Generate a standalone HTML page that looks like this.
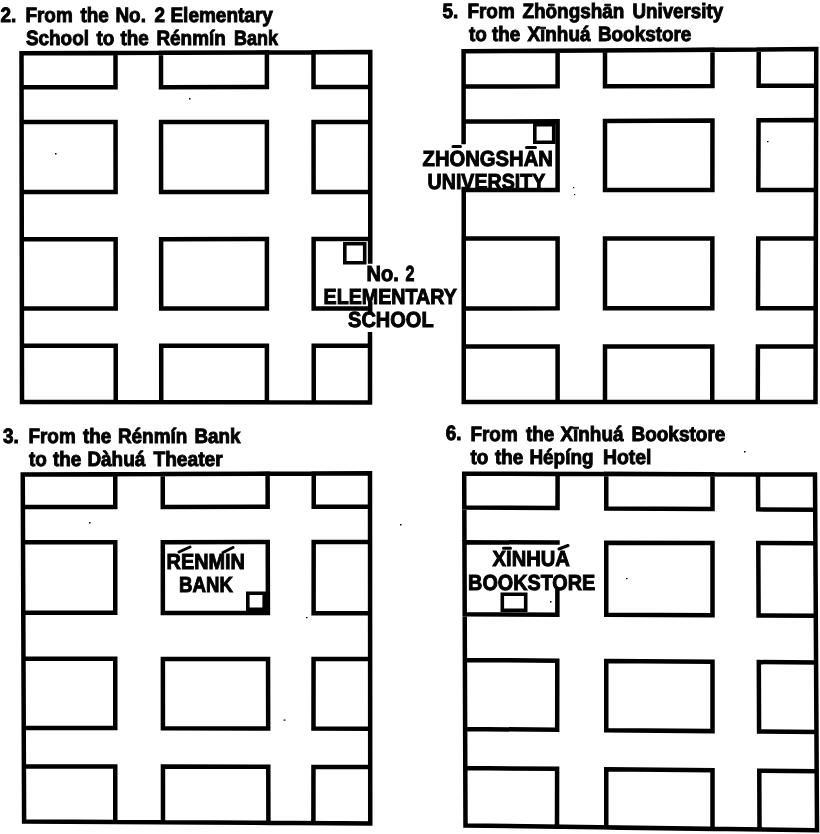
<!DOCTYPE html>
<html><head><meta charset="utf-8"><style>
html,body{margin:0;padding:0;background:#fff;}
svg{display:block;will-change:transform;}
text{text-rendering:geometricPrecision;font-family:"Liberation Sans",sans-serif;font-weight:bold;fill:#000;stroke:#000;stroke-width:0.9;}
</style></head><body>
<svg width="820" height="834" viewBox="0 0 820 834">
<rect width="820" height="834" fill="#fff"/>
<path d="M21.5 53.25L115.5 52.91L115.52 87.18L21.55 87.25Z M161.0 52.75L266.9 52.37L266.9 87.07L161.02 87.15Z M313.5 52.2L370.25 52.0L370.23 87.0L313.52 87.04Z M21.6 122.0L115.55 122.0L115.6 192.0L21.7 192.0Z M161.05 122.0L266.9 122.0L266.9 192.0L161.1 192.0Z M313.55 122.0L370.2 122.0L370.15 192.0L313.6 192.0Z M21.77 239.25L115.63 239.18L115.68 308.5L21.87 308.5Z M161.13 239.15L266.9 239.07L266.9 308.5L161.18 308.5Z M313.68 308.5L313.63 239.04L370.12 239.0L370.12 261.5 M313.68 308.5L369.57 308.5 M21.92 345.75L115.71 345.75L115.75 402.11L22.0 402.0Z M161.21 345.75L266.9 345.75L266.9 402.28L161.25 402.16Z M313.71 345.75L370.04 345.75L370.0 402.4L313.75 402.34Z M370.25 261.5L370.25 52.0L21.5 53.25L22.0 402.0L370.0 402.4L370.0 334.25 M370.2 304L370.2 310.5 M463.6 51.25L557.6 50.68L557.6 86.33L463.62 86.6Z M605.0 50.39L712.5 49.73L712.47 85.89L605.0 86.2Z M758.75 49.45L816.25 49.1L816.17 85.6L758.65 85.76Z M463.63 142L463.63 121.6L557.6 121.17L557.6 190.0L463.66 190.0 M605.0 120.96L712.45 120.47L712.4 190.0L605.0 190.0Z M758.55 120.26L816.1 120.0L815.95 190.0L758.35 190.0Z M463.68 238.6L557.6 238.55L557.6 308.36L463.71 308.4Z M605.0 238.52L712.37 238.46L712.32 308.29L605.0 308.34Z M758.22 238.43L815.85 238.4L815.7 308.25L758.02 308.27Z M463.73 346.4L557.6 346.4L557.6 402.1L463.75 402.1Z M605.0 346.4L712.29 346.4L712.25 402.1L605.0 402.1Z M757.91 346.4L815.62 346.4L815.5 402.1L757.75 402.1Z M463.6 142L463.6 51.25L816.25 49.1L815.5 402.1L463.75 402.1L463.75 189 M22.75 474.5L115.25 474.17L115.25 506.93L22.88 507.0Z M162.75 474.0L267.6 473.62L267.68 506.82L162.77 506.9Z M313.75 473.45L370.0 473.25L370.02 506.75L313.72 506.79Z M23.01 542.3L115.25 542.22L115.25 612.85L23.29 612.7Z M162.8 542.18L267.76 542.09L267.92 613.09L162.85 612.92Z M313.68 542.05L370.05 542.0L370.1 613.25L313.61 613.16Z M23.47 658.75L115.25 658.84L115.25 728.01L23.73 727.75Z M162.88 658.89L268.02 659.0L268.18 728.46L162.93 728.15Z M313.56 659.04L370.13 659.1L370.18 728.75L313.49 728.59Z M23.88 766.25L115.25 766.45L115.25 822.08L24.1 821.6Z M162.96 766.55L268.27 766.78L268.4 822.87L163.0 822.32Z M313.46 766.88L370.21 767.0L370.25 823.4L313.4 823.11Z M22.75 474.5L370.0 473.25L370.25 823.4L24.1 821.6Z M464.2 473.75L557.6 473.95L557.54 508.09L464.32 507.5Z M606.25 474.05L712.5 474.28L712.5 509.09L606.25 508.41Z M758.0 474.38L815.0 474.5L815.2 509.74L758.15 509.38Z M557.48 542.51L464.45 542.25L464.71 614.25L557.36 614.65L557.36 591 M606.25 542.65L712.5 542.96L712.5 615.31L606.25 614.85Z M758.29 543.09L815.39 543.25L815.8 615.75L758.6 615.5Z M464.88 660.0L557.28 660.66L557.17 729.79L465.14 729.0Z M606.25 661.01L712.5 661.76L712.5 731.12L606.25 730.21Z M758.8 662.09L816.07 662.5L816.46 732.0L759.09 731.51Z M465.28 768.0L557.1 768.85L557.0 826.75L465.49 825.51Z M606.25 769.31L712.5 770.29L712.5 828.85L606.25 827.41Z M759.26 770.72L816.68 771.26L817.01 830.26L759.51 829.49Z M464.2 473.75L815.0 474.5L817.01 830.26L465.49 825.51Z" fill="none" stroke="#000" stroke-width="4.5" stroke-linejoin="miter" stroke-linecap="square"/>
<path d="M344.8 243.8H364.7V262.7H344.8Z M534.8 124.8H553.7V142.2H534.8Z M247.8 593.3H264.2V609.2H247.8Z M502.3 594.3H525.7V610.2H502.3Z" fill="none" stroke="#000" stroke-width="3.6"/>
<text x="0.45" y="22" font-size="19.5" stroke-width="0.9" textLength="15.77" lengthAdjust="spacingAndGlyphs" transform="matrix(1 0 0 1.06 0 -1.320)">2.</text>
<text x="25.45" y="21.5" font-size="19.5" stroke-width="0.9" textLength="47.29" lengthAdjust="spacingAndGlyphs" transform="matrix(1 0 0 1.06 0 -1.290)">From</text>
<text x="80.45" y="21.5" font-size="19.5" stroke-width="0.9" textLength="28.37" lengthAdjust="spacingAndGlyphs" transform="matrix(1 0 0 1.06 0 -1.290)">the</text>
<text x="115.45" y="21.5" font-size="19.5" stroke-width="0.9" textLength="30.47" lengthAdjust="spacingAndGlyphs" transform="matrix(1 0 0 1.06 0 -1.290)">No.</text>
<text x="154.45" y="21.5" font-size="19.5" stroke-width="0.9" textLength="10.52" lengthAdjust="spacingAndGlyphs" transform="matrix(1 0 0 1.06 0 -1.290)">2</text>
<text x="170.45" y="21.5" font-size="19.5" stroke-width="0.9" textLength="102.44" lengthAdjust="spacingAndGlyphs" transform="matrix(1 0 0 1.06 0 -1.290)">Elementary</text>
<text x="25.95" y="45" font-size="19.5" stroke-width="0.9" textLength="63.05" lengthAdjust="spacingAndGlyphs" transform="matrix(1 0 0 1.06 0 -2.700)">School</text>
<text x="96.45" y="45" font-size="19.5" stroke-width="0.9" textLength="17.85" lengthAdjust="spacingAndGlyphs" transform="matrix(1 0 0 1.06 0 -2.700)">to</text>
<text x="120.45" y="45" font-size="19.5" stroke-width="0.9" textLength="28.37" lengthAdjust="spacingAndGlyphs" transform="matrix(1 0 0 1.06 0 -2.700)">the</text>
<text x="156.45" y="45" font-size="19.5" stroke-width="0.9" textLength="69.36" lengthAdjust="spacingAndGlyphs" transform="matrix(1 0 0 1.06 0 -2.700)">Rénmín</text>
<text x="233.95" y="45" font-size="19.5" stroke-width="0.9" textLength="43.94" lengthAdjust="spacingAndGlyphs" transform="matrix(1 0 0 1.06 0 -2.700)">Bank</text>
<text x="442.45" y="18" font-size="19.5" stroke-width="0.9" textLength="15.77" lengthAdjust="spacingAndGlyphs" transform="matrix(1 0 0 1.06 0 -1.080)">5.</text>
<text x="467.45" y="17.5" font-size="19.5" stroke-width="0.9" textLength="47.29" lengthAdjust="spacingAndGlyphs" transform="matrix(1 0 0 1.06 0 -1.050)">From</text>
<text x="522.45" y="17.5" font-size="19.5" stroke-width="0.9" textLength="101.92" lengthAdjust="spacingAndGlyphs" transform="matrix(1 0 0 1.06 0 -1.050)">Zhōngshān</text>
<text x="632.45" y="17.5" font-size="19.5" stroke-width="0.9" textLength="90.69" lengthAdjust="spacingAndGlyphs" transform="matrix(1 0 0 1.06 0 -1.050)">University</text>
<text x="468.95" y="41" font-size="19.5" stroke-width="0.9" textLength="17.85" lengthAdjust="spacingAndGlyphs" transform="matrix(1 0 0 1.06 0 -2.460)">to</text>
<text x="491.95" y="41" font-size="19.5" stroke-width="0.9" textLength="28.37" lengthAdjust="spacingAndGlyphs" transform="matrix(1 0 0 1.06 0 -2.460)">the</text>
<text x="527.45" y="41" font-size="19.5" stroke-width="0.9" textLength="63.05" lengthAdjust="spacingAndGlyphs" transform="matrix(1 0 0 1.06 0 -2.460)">Xīnhuá</text>
<text x="597.95" y="41" font-size="19.5" stroke-width="0.9" textLength="93.44" lengthAdjust="spacingAndGlyphs" transform="matrix(1 0 0 1.06 0 -2.460)">Bookstore</text>
<text x="2.95" y="443" font-size="19.5" stroke-width="0.9" textLength="15.77" lengthAdjust="spacingAndGlyphs" transform="matrix(1 0 0 1.06 0 -26.580)">3.</text>
<text x="28.45" y="442.8" font-size="19.5" stroke-width="0.9" textLength="47.29" lengthAdjust="spacingAndGlyphs" transform="matrix(1 0 0 1.06 0 -26.568)">From</text>
<text x="82.95" y="442.8" font-size="19.5" stroke-width="0.9" textLength="28.37" lengthAdjust="spacingAndGlyphs" transform="matrix(1 0 0 1.06 0 -26.568)">the</text>
<text x="117.95" y="442.8" font-size="19.5" stroke-width="0.9" textLength="69.36" lengthAdjust="spacingAndGlyphs" transform="matrix(1 0 0 1.06 0 -26.568)">Rénmín</text>
<text x="194.45" y="442.8" font-size="19.5" stroke-width="0.9" textLength="45.94" lengthAdjust="spacingAndGlyphs" transform="matrix(1 0 0 1.06 0 -26.568)">Bank</text>
<text x="28.95" y="465.8" font-size="19.5" stroke-width="0.9" textLength="17.85" lengthAdjust="spacingAndGlyphs" transform="matrix(1 0 0 1.06 0 -27.948)">to</text>
<text x="52.95" y="465.8" font-size="19.5" stroke-width="0.9" textLength="28.37" lengthAdjust="spacingAndGlyphs" transform="matrix(1 0 0 1.06 0 -27.948)">the</text>
<text x="87.45" y="465.8" font-size="19.5" stroke-width="0.9" textLength="57.81" lengthAdjust="spacingAndGlyphs" transform="matrix(1 0 0 1.06 0 -27.948)">Dàhuá</text>
<text x="153.45" y="465.8" font-size="19.5" stroke-width="0.9" textLength="69.19" lengthAdjust="spacingAndGlyphs" transform="matrix(1 0 0 1.06 0 -27.948)">Theater</text>
<text x="445.75" y="440.5" font-size="19.5" stroke-width="0.9" textLength="15.77" lengthAdjust="spacingAndGlyphs" transform="matrix(1 0 0 1.06 0 -26.430)">6.</text>
<text x="470.45" y="440.8" font-size="19.5" stroke-width="0.9" textLength="47.29" lengthAdjust="spacingAndGlyphs" transform="matrix(1 0 0 1.06 0 -26.448)">From</text>
<text x="525.95" y="440.8" font-size="19.5" stroke-width="0.9" textLength="28.37" lengthAdjust="spacingAndGlyphs" transform="matrix(1 0 0 1.06 0 -26.448)">the</text>
<text x="560.45" y="440.8" font-size="19.5" stroke-width="0.9" textLength="63.05" lengthAdjust="spacingAndGlyphs" transform="matrix(1 0 0 1.06 0 -26.448)">Xīnhuá</text>
<text x="631.45" y="440.8" font-size="19.5" stroke-width="0.9" textLength="93.94" lengthAdjust="spacingAndGlyphs" transform="matrix(1 0 0 1.06 0 -26.448)">Bookstore</text>
<text x="470.45" y="464.5" font-size="19.5" stroke-width="0.9" textLength="17.85" lengthAdjust="spacingAndGlyphs" transform="matrix(1 0 0 1.06 0 -27.870)">to</text>
<text x="494.95" y="464.5" font-size="19.5" stroke-width="0.9" textLength="28.37" lengthAdjust="spacingAndGlyphs" transform="matrix(1 0 0 1.06 0 -27.870)">the</text>
<text x="529.45" y="464.5" font-size="19.5" stroke-width="0.9" textLength="64.10" lengthAdjust="spacingAndGlyphs" transform="matrix(1 0 0 1.06 0 -27.870)">Hépíng</text>
<text x="602.95" y="464.5" font-size="19.5" stroke-width="0.9" textLength="48.52" lengthAdjust="spacingAndGlyphs" transform="matrix(1 0 0 1.06 0 -27.870)">Hotel</text>
<text x="366.60" y="281" font-size="20" stroke-width="1.2" transform="matrix(1 0 0 1.09 0 -25.290)">No.</text>
<text x="405.60" y="281" font-size="20" stroke-width="1.2" textLength="8.92" lengthAdjust="spacingAndGlyphs" transform="matrix(1 0 0 1.09 0 -25.290)">2</text>
<text x="323.60" y="304" font-size="20" stroke-width="1.2" textLength="133.14" lengthAdjust="spacingAndGlyphs" transform="matrix(1 0 0 1.09 0 -27.360)">ELEMENTARY</text>
<text x="348.10" y="327" font-size="20" stroke-width="1.2" textLength="85.52" lengthAdjust="spacingAndGlyphs" transform="matrix(1 0 0 1.09 0 -29.430)">SCHOOL</text>
<text x="422.60" y="165.5" font-size="20" stroke-width="1.2" textLength="130.24" lengthAdjust="spacingAndGlyphs" transform="matrix(1 0 0 1.09 0 -14.895)">ZHONGSHAN</text>
<text x="427.60" y="188.5" font-size="20" stroke-width="1.2" textLength="117.64" lengthAdjust="spacingAndGlyphs" transform="matrix(1 0 0 1.09 0 -16.965)">UNIVERSITY</text>
<text x="166.60" y="568.5" font-size="20" stroke-width="1.2" textLength="78.24" lengthAdjust="spacingAndGlyphs" transform="matrix(1 0 0 1.09 0 -51.165)">RENMIN</text>
<text x="179.10" y="592" font-size="20" stroke-width="1.2" textLength="53.74" lengthAdjust="spacingAndGlyphs" transform="matrix(1 0 0 1.09 0 -53.280)">BANK</text>
<text x="492.60" y="565.5" font-size="20" stroke-width="1.2" textLength="77.24" lengthAdjust="spacingAndGlyphs" transform="matrix(1 0 0 1.09 0 -50.895)">XINHUA</text>
<text x="468.10" y="589.5" font-size="20" stroke-width="1.2" textLength="127.14" lengthAdjust="spacingAndGlyphs" transform="matrix(1 0 0 1.09 0 -53.055)">BOOKSTORE</text>
<path d="M179 552.0L190 547.0 M223 552.5L233 547.5 M453 146.5L460.5 146.5 M526.5 147.5L535.5 147.5 M503.5 548.2L510.5 548.2 M559 549.0L568 545.5" fill="none" stroke="#000" stroke-width="3" stroke-linecap="round"/>
<rect x="55" y="153" width="1.5" height="1.5" fill="#000"/><rect x="189" y="98" width="1.5" height="1.5" fill="#000"/><rect x="573" y="187" width="1.2" height="1.2" fill="#000"/><rect x="574" y="194" width="1.2" height="1.2" fill="#000"/><rect x="767" y="141" width="1.5" height="1.2" fill="#000"/><rect x="89" y="522" width="1.5" height="1.5" fill="#000"/><rect x="400" y="524" width="1.5" height="1.5" fill="#000"/><rect x="283.5" y="719.5" width="2" height="1.2" fill="#000"/><rect x="306" y="617" width="1.5" height="1.2" fill="#000"/><rect x="744" y="451" width="1.5" height="1.5" fill="#000"/><rect x="626" y="578" width="1.5" height="1.2" fill="#000"/><rect x="550" y="601" width="1.5" height="1.5" fill="#000"/>
</svg>
</body></html>
